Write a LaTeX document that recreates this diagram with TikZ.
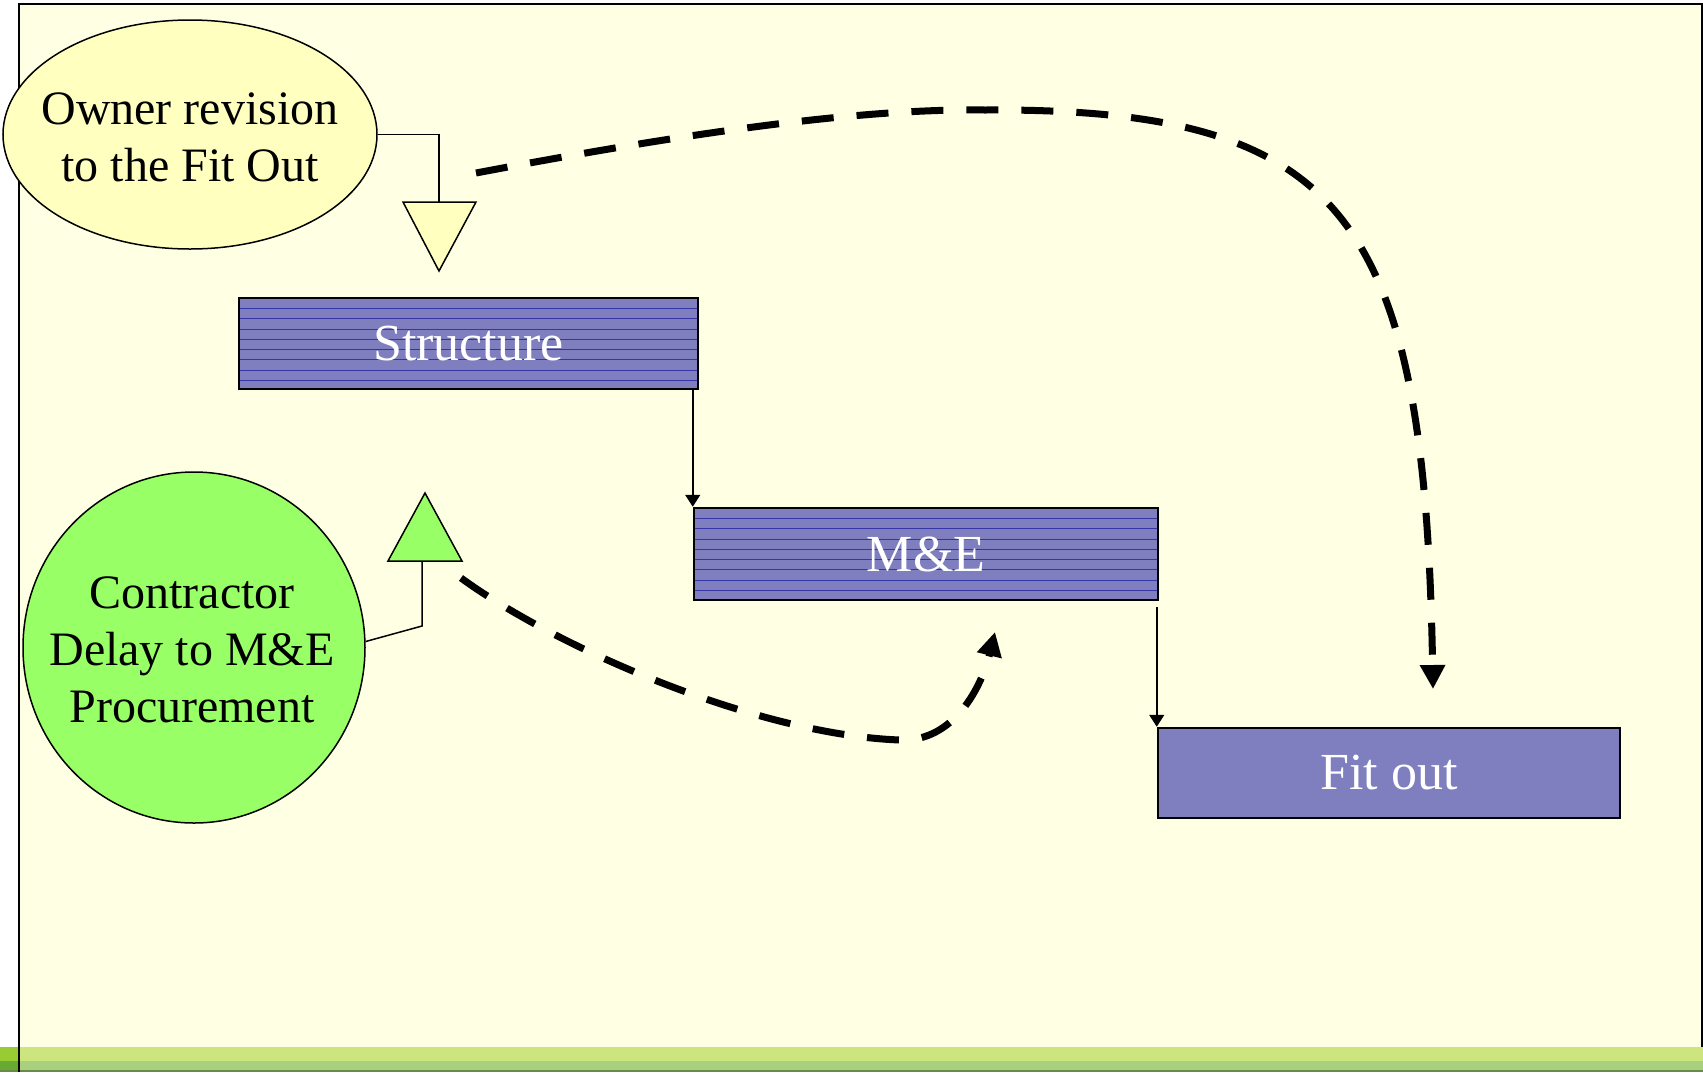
\documentclass[tikz,border=0pt]{standalone}
\usepackage{fontspec}
\setmainfont{Liberation Serif}
\usetikzlibrary{shapes.geometric,arrows.meta,calc}
\definecolor{cream}{HTML}{FFFFE3}
\definecolor{ownerfill}{HTML}{FFFFC0}
\definecolor{greenfill}{HTML}{99FF66}
\definecolor{barfill}{HTML}{7F7FC0}
\definecolor{barline}{HTML}{3535A5}
\definecolor{stripeA}{HTML}{CDE57F}
\definecolor{stripeB}{HTML}{A9D07F}
\definecolor{stripeAL}{HTML}{99CC33}
\definecolor{stripeBL}{HTML}{66AA33}
\definecolor{stripeEdge}{HTML}{6A8A4A}
\begin{document}
\begin{tikzpicture}[x=1pt,y=-1pt,
  bar/.style={draw=black, line width=2.5pt, fill=barfill, text=white,
    font=\fontsize{52}{60}\selectfont, inner sep=0pt},
  striped/.style={path picture={
    \foreach \k in {1,...,8}{
      \pgfmathsetmacro\yy{-\k*10.3}
      \draw[barline, line width=0.8pt]
        ([yshift=\yy pt]path picture bounding box.north west) --
        ([yshift=\yy pt]path picture bounding box.north east);}}},
  bubble/.style={ellipse, draw=black, line width=1.5pt, inner sep=0pt},
  bubbletext/.style={align=center, inner sep=0pt, font=\fontsize{48}{57}\selectfont},
  conn/.style={draw=black, line width=1.5pt},
  connarrow/.style={conn, -{Triangle[length=12pt,width=15pt]}},
  dashconn/.style={draw=black, line width=7pt, dash pattern=on 32pt off 23pt,
    -{Triangle[length=24pt,width=24pt]}},
  tri/.style={draw=black, line width=1.5pt}
]
\useasboundingbox (0,0) rectangle (1703,1072);
\fill[white] (0,0) rectangle (1703,1072);
% slide background and frame
\fill[cream] (19,4) rectangle (1701,1047);
% bottom stripes
\fill[stripeA] (0,1047) rectangle (1703,1061);
\fill[stripeB] (0,1061) rectangle (1703,1072);
\fill[stripeAL] (0,1047) rectangle (18,1061);
\fill[stripeBL] (0,1061) rectangle (18,1072);
\draw[stripeEdge, line width=1.5pt] (0,1071.2) -- (1703,1071.2);
\draw[black, line width=2pt] (18.5,1072) -- (18.5,4) -- (1701.5,4) -- (1701.5,1047);

% bars
\node[bar, striped, minimum width=459pt, minimum height=91pt] (S) at (468.5,343.5) {Structure};
\node[bar, striped, minimum width=464pt, minimum height=92pt] (M) at (926,554) {M\&E};
\node[bar, minimum width=462pt, minimum height=90pt] (F) at (1389,773) {Fit out};

% bubbles
\node[bubble, fill=ownerfill, minimum width=374pt, minimum height=229pt] (O) at (190,134.5) {};
\node[bubbletext] (Ot) at (190,137) {Owner revision\\to the Fit Out};
\node[bubble, fill=greenfill, minimum width=342pt, minimum height=351pt] (C) at (194,647.5) {};
\node[bubbletext] (Ct) at (192,650) {Contractor\\Delay to M\&E\\Procurement};

% connectors to triangles
\coordinate (T1) at (439,202);
\coordinate (T2) at (422,561);
\coordinate (cb) at (422,626);
\draw[conn] (O.east) -| (T1);
\draw[conn] (C.2) -- (cb) -- (T2);
\draw[tri, fill=ownerfill] (403,202) -- (476,202) -- (439,271) -- cycle;
\draw[tri, fill=greenfill] (388,561) -- (462,561) -- (425,493) -- cycle;

% sequence connectors
\path (S.south -| M.west) coordinate (sm);
\draw[connarrow] (sm) -- (M.north west);
\path (M.south -| F.west) ++(0,6) coordinate (mf);
\draw[connarrow] (mf) -- (F.north west);

% dashed impact arrows
\coordinate (d1s) at (476,173);
\coordinate (d1p) at (985,110);
\coordinate (d1e) at (1433,689);
\draw[dashconn] (d1s) .. controls (650,140) and (845,108) .. (d1p)
  .. controls (1345,108) and (1425,215) .. (d1e);
\coordinate (d2s) at (461,578);
\coordinate (d2v) at (900,740);
\coordinate (d2e) at (995,632);
\draw[dashconn] (d2s) .. controls (560,650) and (760,735) .. (d2v)
  .. controls (955,742) and (982,685) .. (d2e);
\end{tikzpicture}
\end{document}
